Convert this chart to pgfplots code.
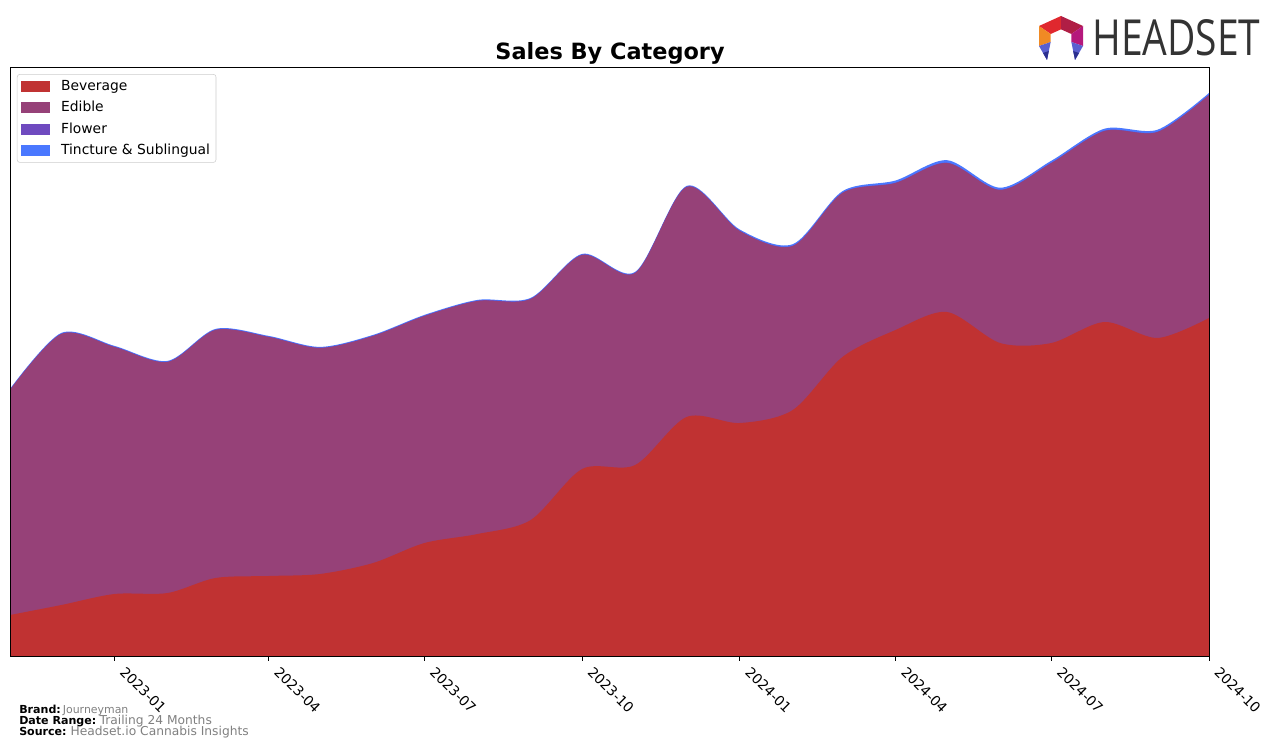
\documentclass[border=0pt]{standalone}
\usepackage{fontspec}
\setmainfont{DejaVu Sans}
\newfontfamily\logofont{Open Sans}
\usepackage{pgfplots}
\usepackage{pgfplotstable}
\usetikzlibrary{calc}
\pgfplotsset{compat=1.18}
\definecolor{bev}{HTML}{C03232}
\definecolor{edi}{HTML}{964178}
\definecolor{flo}{HTML}{6F4ABF}
\definecolor{tin}{HTML}{4A78FF}
\definecolor{logogray}{HTML}{333333}
\definecolor{footgray}{HTML}{808080}
\definecolor{lgA}{HTML}{E0282E}
\definecolor{lgB}{HTML}{B01E45}
\definecolor{lgC}{HTML}{B5187C}
\definecolor{lgD}{HTML}{F08A24}
\definecolor{lgE}{HTML}{5A5FD0}
\definecolor{lgF}{HTML}{2B2F8F}

% d = days since 2022-11-01; B = Beverage; E,F,T = cumulative tops of Edible, Flower, Tincture
\pgfplotstableread{
d   B    E    F      T
0   41   266  266.3  267.1
30  51   322  322.3  323.1
61  62   309  309.3  310.1
92  63   294  294.3  295.1
120 78   326  326.3  327.1
151 80   319  319.3  320.1
181 82   308  308.3  309.1
212 93   320  320.3  321.1
242 113  340  340.3  341.1
273 122  355  355.3  356.1
304 136  357  357.3  358.1
334 187  401  401.3  402.1
365 191  383  383.3  384.1
395 239  469  469.3  470.1
426 233  425  425.3  426.5
457 246  410  410.3  411.8
486 299  463  463.3  464.8
517 326  473  473.3  475.5
547 344  493  493.3  495.8
578 313  466  466.3  468.3
608 313  493  493.3  495.3
639 334  525  525.3  527.3
670 318  524  524.3  526.3
700 338  561  561.3  563.0
}\sales

\begin{document}
\begin{tikzpicture}[x=1pt,y=1pt]
\path[use as bounding box] (-7.5,-68.25) rectangle (949.5,492);
\begin{axis}[
  at={(0,0)}, anchor=south west,
  scale only axis, width=899.25pt, height=441.75pt,
  xmin=0, xmax=700, ymin=0, ymax=589,
  axis on top,
  axis line style={line width=0.6pt},
  ytick=\empty,
  xtick={61,151,242,334,426,517,608,700},
  xticklabels={2023-01,2023-04,2023-07,2023-10,2024-01,2024-04,2024-07,2024-10},
  xtick pos=bottom,
  tick align=outside,
  major tick length=3.65pt,
  tick style={line width=0.6pt, black},
  xticklabel style={xshift=9pt, yshift=-2pt, rotate=-45, anchor=north west, font=\fontsize{10.4}{12}\selectfont, inner sep=1pt},
  legend cell align=left,
  legend style={at={(rel axis cs:0.0058,0.988)}, anchor=north west, draw=black!20, rounded corners=2pt,
    font=\fontsize{10.4}{12}\selectfont, row sep=2.6pt, column sep=7pt, inner sep=2.5pt},
  legend image code/.code={\fill[#1,sharp corners] (2pt,-3.75pt) rectangle (23pt,3.75pt);},
]
\addplot[fill=tin, draw=none, smooth, forget plot] table[x=d,y=T]{\sales} \closedcycle;
\addplot[fill=flo, draw=none, smooth, forget plot] table[x=d,y=F]{\sales} \closedcycle;
\addplot[fill=edi, draw=none, smooth, forget plot] table[x=d,y=E]{\sales} \closedcycle;
\addplot[fill=bev, draw=none, smooth, forget plot] table[x=d,y=B]{\sales} \closedcycle;
\addlegendimage{bev}\addlegendentry{Beverage}
\addlegendimage{edi}\addlegendentry{Edible}
\addlegendimage{flo}\addlegendentry{Flower}
\addlegendimage{tin}\addlegendentry{Tincture \& Sublingual}
\end{axis}
% title
\node[font=\fontsize{16.8}{20}\selectfont\bfseries] at (450,452) {Sales By Category};
% footer
\node[anchor=base west, inner sep=0pt, font=\fontsize{8.3}{10}\selectfont] at (6.75,-42.75) {\textbf{Brand:}\hspace{1.5pt}\fontsize{8.2}{10}\selectfont\textcolor{footgray}{Journeyman}};
\node[anchor=base west, inner sep=0pt, font=\fontsize{8.3}{10}\selectfont] at (6.75,-51) {\textbf{Date Range:}\hspace{2.5pt}\fontsize{9.2}{10}\selectfont\textcolor{footgray}{Trailing 24 Months}};
\node[anchor=base west, inner sep=0pt, font=\fontsize{8.3}{10}\selectfont] at (6.75,-59.25) {\textbf{Source:}\hspace{3pt}\fontsize{9.2}{10}\selectfont\textcolor{footgray}{Headset.io Cannabis Insights}};
% logo
\node[anchor=south west, inner sep=0pt, text=logogray] at (811.5,450) {\resizebox{126pt}{27pt}{\logofont HEADSET}};
\coordinate (T) at (788.25,480);
\coordinate (UL) at (771.75,472.5);
\coordinate (UR) at (804.75,472.5);
\coordinate (LL) at (771.75,457.5);
\coordinate (LR) at (804.75,457.5);
\coordinate (t) at (788.25,470);
\coordinate (ul) at (780.5,466.5);
\coordinate (ur) at (796,466.5);
\coordinate (ll) at (780.5,460.5);
\coordinate (lr) at (796,460.5);
\coordinate (tl) at (777.75,447);
\coordinate (tr) at (798.75,447);
\fill[lgA] (UL) -- (T) -- (t) -- (ul) -- cycle;
\fill[lgB] (T) -- (UR) -- (ur) -- (t) -- cycle;
\fill[lgC] (UR) -- (LR) -- (lr) -- (ur) -- cycle;
\fill[lgD] (UL) -- (LL) -- (ll) -- (ul) -- cycle;
\fill[lgE] (LL) -- (ll) -- (tl) -- cycle;
\fill[lgF] ($(LL)!0.5!(tl)$) -- ($(ll)!0.5!(tl)$) -- (tl) -- cycle;
\fill[lgE] (LR) -- (lr) -- (tr) -- cycle;
\fill[lgF] ($(LR)!0.5!(tr)$) -- ($(lr)!0.5!(tr)$) -- (tr) -- cycle;
\end{tikzpicture}
\end{document}
